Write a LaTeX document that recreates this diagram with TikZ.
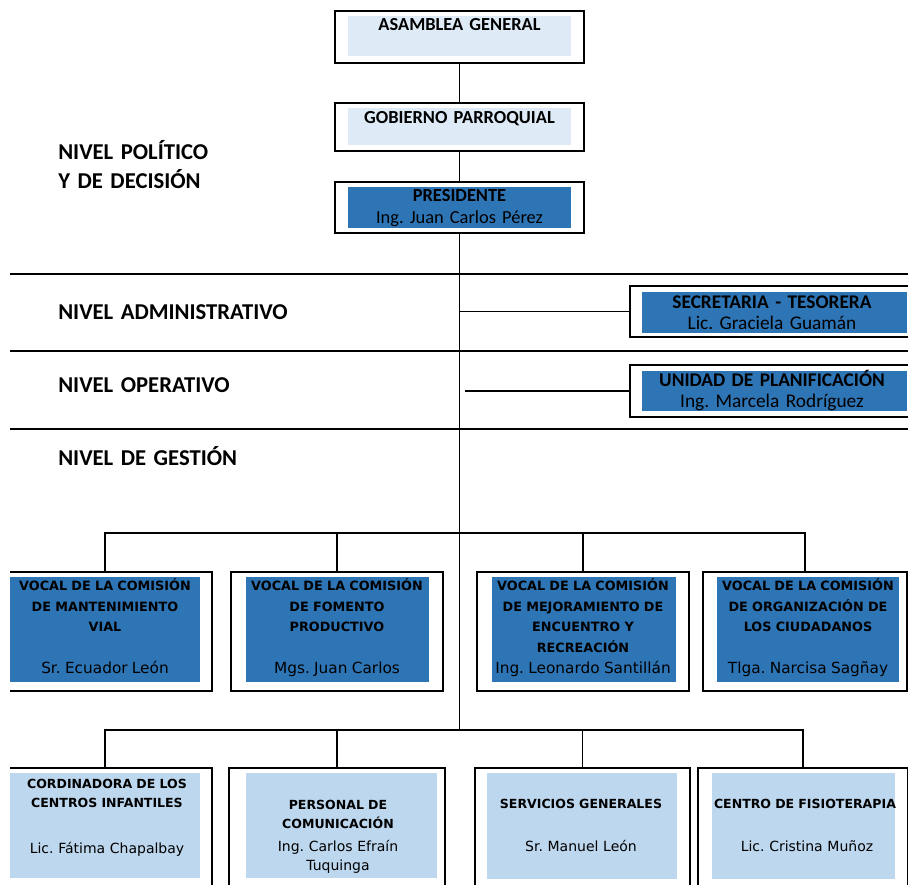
\documentclass[tikz,border=0pt]{standalone}
\usepackage{fontspec}
\setmainfont{Carlito}[WordSpace=0.55]
\newfontfamily\vocalfont{DejaVu Sans}[WordSpace=0.85]
\usetikzlibrary{fit}
\definecolor{paleblue}{HTML}{DEEBF7}
\definecolor{midblue}{HTML}{BDD7EE}
\definecolor{deepblue}{HTML}{2E75B6}
\newcommand{\vocalname}[1]{{\mdseries\fontsize{11.5pt}{15.45pt}\selectfont #1}}
\frenchspacing

\begin{document}
\begin{tikzpicture}[x=0.75pt,y=-0.75pt,
  frame/.style={draw,line width=1.2pt,inner sep=0pt},
  link/.style={line width=0.9pt},
  level/.style={anchor=base west,inner sep=0pt,text width=250pt,align=left,
    font=\bfseries\fontsize{17pt}{21.75pt}\selectfont},
  toptext/.style={anchor=base,inner sep=0pt,text width=160pt,align=center,
    font=\bfseries\fontsize{13.8pt}{16.2pt}\selectfont},
  sidetext/.style={anchor=base,inner sep=0pt,text width=190pt,align=center,
    font=\bfseries\fontsize{14.5pt}{15.9pt}\selectfont},
  vocaltext/.style={anchor=base,inner sep=0pt,text width=150pt,align=center,
    font=\vocalfont\bfseries\fontsize{9.6pt}{15.45pt}\selectfont},
  unittext/.style={anchor=base,inner sep=0pt,text width=150pt,align=center,
    font=\vocalfont\bfseries\fontsize{9.4pt}{14.25pt}\selectfont},
  person/.style={anchor=base,inner sep=0pt,text width=150pt,align=center,
    font=\vocalfont\fontsize{10.5pt}{14.25pt}\selectfont}]
\useasboundingbox (0,0) rectangle (908,885);
\begin{scope}
\clip (10,0) rectangle (908,885);

% levels
\draw[link] (0,274) -- (908,274);
\draw[link] (0,351) -- (908,351);
\draw[link] (0,429) -- (908,429);
\node[level] (polit) at (58,159.5) {NIVEL POLÍTICO\\ Y DE DECISIÓN};
\node[level] (admin) at (58,319.5) {NIVEL ADMINISTRATIVO};
\node[level] (oper) at (58,392) {NIVEL OPERATIVO};
\node[level] (gest) at (58,465) {NIVEL DE GESTIÓN};

% top of the chart
\node[frame,fit={(335,11) (584,63)}] (asam) {};
\fill[paleblue] (348,16) rectangle (571,56);
\node[toptext] (asamtxt) at (459.5,30.7) {ASAMBLEA GENERAL};
\node[frame,fit={(335,103) (584,151)}] (gob) {};
\fill[paleblue] (348,108) rectangle (571,145);
\node[toptext] (gobtxt) at (459.5,123.5) {GOBIERNO PARROQUIAL};
\node[frame,fit={(335,182) (584,233)}] (pres) {};
\fill[deepblue] (348,187) rectangle (571,228);
\node[toptext] (prestxt) at (459.5,201.7) {PRESIDENTE\\ {\mdseries Ing. Juan Carlos Pérez}};

\coordinate (vbus) at (459.5,533);
\coordinate (low) at (459.5,730);
\draw[link] (asam) -- (gob);
\draw[link] (gob) -- (pres);
\draw[link] (pres) -- (low);

% staff at the right
\node[frame,fit={(630,286) (925,337)}] (sec) {};
\fill[deepblue] (642,292) rectangle (907,333);
\node[sidetext] (sectxt) at (772,308.3) {SECRETARIA - TESORERA\\ {\mdseries Lic. Graciela Guamán}};
\draw[link] (pres.south |- sec.west) -- (sec.west);
\node[frame,fit={(630,365) (925,417)}] (uni) {};
\fill[deepblue] (642,371) rectangle (907,411);
\node[sidetext] (unitxt) at (772,386.7) {UNIDAD DE PLANIFICACIÓN\\ {\mdseries Ing. Marcela Rodríguez}};
\coordinate (uniend) at (465,391);
\draw[link] (uniend) -- (uni.west);

% vocales
\node[frame,fit={(-2,572) (212,691)}] (v1) {};
\fill[deepblue] (5,577) rectangle (200,682);
\node[vocaltext] (v1txt) at (105,590.7) {VOCAL DE LA COMISIÓN\\ DE MANTENIMIENTO\\ VIAL\\ \mbox{}\\ \vocalname{Sr. Ecuador León}};
\node[frame,fit={(231,572) (443,691)}] (v2) {};
\fill[deepblue] (246,577) rectangle (429,682);
\node[vocaltext] (v2txt) at (337,590.7) {VOCAL DE LA COMISIÓN\\ DE FOMENTO\\ PRODUCTIVO\\ \mbox{}\\ \vocalname{Mgs. Juan Carlos}};
\node[frame,fit={(477,572) (689,691)}] (v3) {};
\fill[deepblue] (492,577) rectangle (676,682);
\node[vocaltext] (v3txt) at (583,590.7) {VOCAL DE LA COMISIÓN\\ DE MEJORAMIENTO DE\\ ENCUENTRO Y\\ RECREACIÓN\\ \vocalname{Ing. Leonardo Santillán}};
\node[frame,fit={(703,572) (907,691)}] (v4) {};
\fill[deepblue] (717,577) rectangle (899,682);
\node[vocaltext] (v4txt) at (808,590.7) {VOCAL DE LA COMISIÓN\\ DE ORGANIZACIÓN DE\\ LOS CIUDADANOS\\ \mbox{}\\ \vocalname{Tlga. Narcisa Sagñay}};
\draw[link] (v1.north) |- (vbus) -| (v4.north);
\draw[link] (v2.north) -- (v2.north |- vbus);
\draw[link] (v3.north) -- (v3.north |- vbus);

% units at the bottom
\node[frame,fit={(-2,768) (212,900)}] (b1) {};
\fill[midblue] (5,773) rectangle (200,878);
\node[unittext] (b1txt) at (107,788.3) {CORDINADORA DE LOS\\ CENTROS INFANTILES};
\node[person] (b1name) at (107,853.3) {Lic. Fátima Chapalbay};
\node[frame,fit={(229,768) (445,900)}] (b2) {};
\fill[midblue] (246,773) rectangle (437,878);
\node[unittext] (b2txt) at (338,809.3) {PERSONAL DE\\ COMUNICACIÓN};
\node[person] (b2name) at (338,851.7) {Ing. Carlos Efraín\\ Tuquinga};
\node[frame,fit={(475,768) (690,900)}] (b3) {};
\fill[midblue] (487,773) rectangle (677,879);
\node[unittext] (b3txt) at (581,808.3) {SERVICIOS GENERALES};
\node[person] (b3name) at (581,851.7) {Sr. Manuel León};
\node[frame,fit={(698,768) (908,900)}] (b4) {};
\fill[midblue] (712,773) rectangle (895,879);
\node[unittext] (b4txt) at (805,808.3) {CENTRO DE FISIOTERAPIA};
\node[person] (b4name) at (807,851.7) {Lic. Cristina Muñoz};
\draw[link] (b1.north) |- (low) -| (b4.north);
\draw[link] (b2.north) -- (b2.north |- low);
\draw[link] (b3.north) -- (b3.north |- low);
\end{scope}
\end{tikzpicture}
\end{document}
